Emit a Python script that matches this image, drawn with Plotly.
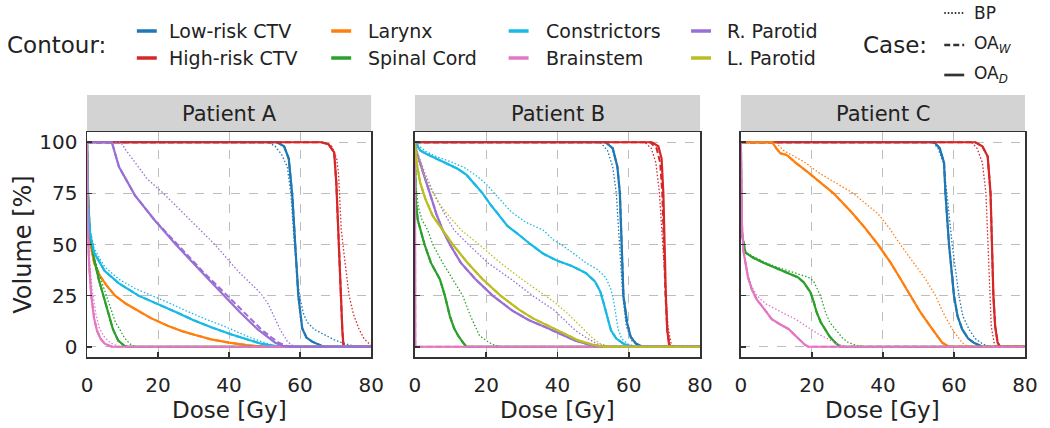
import plotly.graph_objects as go

# ---------------- data: (dose [Gy], volume [%]) ----------------
PATIENTS = ["Patient A", "Patient B", "Patient C"]
CONTOURS = ["Low-risk CTV", "High-risk CTV", "Larynx", "Spinal Cord",
            "Constrictors", "Brainstem", "R. Parotid", "L. Parotid"]
COLORS = ["#1f77b4", "#d62728", "#ff7f0e", "#2ca02c",
          "#19b9e6", "#e377c2", "#9a6fd6", "#bcbd22"]
X_TICKS = [0, 20, 40, 60, 80]
Y_TICKS = [0, 25, 50, 75, 100]

# Patient A
A_low_D = [(0,100),(53.5,100),(55.5,98),(56.8,92),(57.8,74),(58.7,50),(59.5,25),(60.6,9),(61.8,4.5),(63.4,2.5),(66,0.5),(68,0),(80,0)]
A_low_P = [(0,100),(51,100),(53,98),(54.8,94),(56.4,88),(57.4,75),(58.4,50),(59.8,25),(61,16),(62,12),(64,8.5),(66.8,6),(69.5,3.5),(72.4,1.6),(76,0),(80,0)]
A_high_D = [(0,100),(66,100),(68,99),(69.6,95),(70.2,80),(70.8,50),(71.5,25),(71.9,8),(72.2,1),(72.6,0),(80,0)]
A_high_P = [(0,100),(66,100),(68.8,98.5),(70.3,92),(70.8,85),(71.2,70),(71.6,57),(72.4,45),(73.2,33),(73.8,25),(75,16),(76.6,8.6),(78,4),(79,2),(80,0.5)]
A_lar_D = [(0,100),(0.3,70),(0.8,52),(2,41),(3.7,34.5),(5.5,30),(7.9,25),(11,21),(14.4,17.6),(18,14),(22.7,10.3),(27,7.5),(31,5.5),(35,3.6),(40,2),(45,0.8),(50,0),(80,0)]
A_cord_D = [(0,100),(0.3,75),(0.8,55),(2,43),(3.3,33),(4.6,25),(6,16),(7.3,8.6),(8.8,3),(10.5,0.5),(11.5,0),(80,0)]
A_cord_P = [(0,100),(0.3,75),(0.8,56),(2,44),(3.5,35),(5,27),(6.5,19),(8,12),(9.2,8.6),(10.5,4.5),(12,1.5),(13.5,0),(80,0)]
A_con_D = [(0,100),(0.3,70),(0.8,56),(2,46),(5,37),(9,31),(14.5,25),(20,21),(25,17),(30,13),(35,9.5),(40.7,6),(45,3.5),(49,1.5),(53,0.3),(56,0),(80,0)]
A_con_P = [(0,100),(0.3,72),(0.8,58),(2,48),(5,39),(9,33),(13.5,28.5),(18.5,25),(23,21.5),(28,17.5),(33,13.8),(38,10.5),(42,7.5),(46,4.5),(50,2),(53,0.5),(56,0),(80,0)]
A_brain_D = [(0,100),(0.2,60),(0.6,40),(1.2,25),(2,14),(2.8,8),(3.8,4),(5,1.5),(7,0),(80,0)]
A_brain_P = [(0,100),(0.2,62),(0.7,42),(1.5,27),(2.5,16),(3.5,9),(4.8,5),(6.5,2),(9,0),(80,0)]
A_rpar_D = [(0,100),(7,100),(9,88),(13.5,74),(19,62),(25,50),(32,37),(38.7,25),(43,17),(48,8.6),(51,4.5),(53,2),(55,0.5),(57,0),(80,0)]
A_rpar_W = [(0,100),(7,100),(9,88),(13.5,74),(19,62),(25.5,50),(32.5,37),(39.5,25),(44,17),(49,8.6),(52,4.5),(54,2),(56,0.5),(58,0),(80,0)]
A_rpar_P = [(0,100),(9.5,100),(11,96),(13.5,90),(17,82),(21.5,75),(29,62),(36,50),(42.5,37),(49,26),(51,21),(53,14),(54.5,8),(56.5,2.4),(58,0.5),(60,0),(80,0)]

# Patient B
B_low_D = [(0,100),(53.5,100),(55.5,97),(56.8,88),(57.5,75),(58,50),(58.5,25),(59.5,12),(60.5,5),(62,1.5),(64,0),(80,0)]
B_low_P = [(0,100),(52,100),(54,96),(55.5,88),(56.5,75),(57.5,50),(58.3,25),(59.3,10),(60.8,3),(63,0.5),(65,0),(80,0)]
B_high_D = [(0,100),(66.5,100),(68.3,98),(69.2,92),(69.7,75),(70,50),(70.4,25),(70.8,8),(71.3,1),(71.7,0),(80,0)]
B_high_W = [(0,100),(66,100),(67.8,97),(68.8,90),(69.4,75),(69.8,50),(70.3,25),(70.8,8),(71.4,1),(72,0),(80,0)]
B_high_P = [(0,100),(64.5,100),(66.3,97),(67.6,90),(68.6,75),(69.5,50),(70.3,25),(71,10),(71.8,2),(72.5,0),(80,0)]
B_cord_D = [(0,100),(0.2,72),(0.8,62),(1.6,57),(2.7,50),(4.5,41),(7,33),(8.4,25),(9.8,15),(11,9),(12.1,5.5),(13.5,2),(14.5,0),(80,0)]
B_cord_P = [(0,100),(0.3,78),(1,68),(2,62),(3.6,57),(5,50),(7.8,41),(10.6,33),(13.4,25),(15.6,15),(17,10),(18.1,5.5),(20,3),(22,1),(24,0),(80,0)]
B_con_D = [(0,100),(1.5,96),(3,94.5),(6,92),(8.7,90),(12,87),(14.5,84),(17,79),(19,75),(21,70),(23,65.5),(26,59),(29,55),(32.5,50),(36,45.5),(40,42),(44,39.5),(48,36),(50.5,32),(52,27),(53,21),(54,14),(55,8),(56.5,4),(58.5,1.5),(61,0),(80,0)]
B_con_P = [(0,100),(3,95.5),(6,93),(10,90.5),(14,87.5),(17.7,83),(20,79.5),(22,75.5),(25,70),(27,66),(31,61),(36,57),(39,52),(41,50),(45,45),(48,41),(51,38),(53.5,34),(55,28),(55.8,22),(56.5,14),(57,8.6),(58,4),(59.5,1.5),(62,0),(80,0)]
B_brain_D = [(0,100),(0.1,0),(80,0)]
B_rpar_D = [(0,100),(0.5,95),(1.4,90),(2.8,82),(4.2,75),(6,65),(7.8,57),(9.8,50),(12.9,41),(17,33),(21.8,25),(27.4,17.6),(32,13),(36.7,9.5),(41,6),(45,3),(49,1),(53,0),(80,0)]
B_rpar_P = [(0,100),(0.5,96),(1.5,91),(3,84),(5,76),(8,66),(11,57),(15,50),(20.5,41),(27,33),(33,25),(39,18),(42,13),(45,8),(48,4.5),(51,1.5),(54,0),(80,0)]
B_lpar_D = [(0,100),(0.5,90),(1.5,80),(3,72),(5,64),(7.8,57),(10.6,50),(14.8,41),(19,33),(24,25),(29.3,18),(33,14),(37.7,10),(42,6),(46,3),(50,1),(53,0),(80,0)]
B_lpar_P = [(0,100),(1,92),(3,82),(6,72),(9,65),(13,57),(18,50),(24,41),(30,33),(36.5,25),(39,22),(43,16),(47,9),(50,4),(52,1.5),(55,0),(80,0)]

# Patient C
C_low_D = [(0,100),(54.5,100),(56,97),(57.2,90),(57.6,75),(58.6,50),(60,25),(61,15),(62.3,8.6),(64,4),(65.6,2),(68,0),(80,0)]
C_low_P = [(0,100),(54,100),(55.5,97),(57,90),(58,75),(59.5,50),(61.4,25),(62.5,15),(64.2,8.6),(66,4),(68,1.5),(70,0),(80,0)]
C_high_D = [(0,100),(66,100),(68,98),(69.5,93),(70.3,75),(70.7,50),(71.1,25),(71.6,10),(72.3,2),(73,0),(80,0)]
C_high_P = [(0,100),(65,100),(66.5,97),(68,90),(69,75),(69.5,50),(70,25),(70.5,10),(71.3,2),(72,0),(80,0)]
C_lar_D = [(0,100),(8.8,100),(10,97),(11.1,94.6),(12.9,93.8),(15.4,90),(19.1,85),(22,81),(26.1,75),(31.3,65.5),(35,58),(38.6,50),(42.2,41),(45,33),(47.8,25),(50.5,17),(53.9,8.6),(56.7,2),(58.6,0),(80,0)]
C_lar_P = [(0,100),(9.7,100),(12,96),(15,93),(18.2,90),(22,85),(26,81),(31.7,75),(38.6,65),(42,57.5),(44.9,50),(48.8,41),(52,33),(54.8,25),(57,16.5),(59.5,8.6),(62.3,2),(64,0),(80,0)]
C_cord_D = [(0,100),(0.2,56),(1.3,46),(3.5,43.5),(6.5,41),(10,38.5),(13.5,36),(16,34),(17.7,31.5),(19,28.5),(19.6,26.6),(20.5,22),(21.3,17),(22.5,12),(23.8,8.6),(25,5),(26.6,2),(28,0),(80,0)]
C_cord_P = [(0,100),(0.2,56),(1.3,46),(3.5,44),(6.5,41.5),(10,39),(13.5,37),(17,35),(19,34),(20.5,32),(21.5,28.5),(22.4,25),(23.8,17),(25,12),(26.6,8.6),(28.5,4.5),(30.3,2),(33,0.5),(35,0),(80,0)]
C_brain_D = [(0,100),(0.3,60),(0.7,47),(1.3,41),(2,34),(3.1,28),(4.5,23),(5.9,20),(7.5,16),(8.7,13.5),(11,11),(13.5,8.6),(15,6),(16.3,3.7),(18,1),(19,0),(80,0)]
C_brain_P = [(0,100),(0.3,60),(0.7,47),(1.3,41),(2,35),(3.2,29),(4.5,25),(7,21),(9.7,18.4),(12.5,16),(15.4,13.5),(18,10.5),(19.9,8.6),(22,6),(24.7,3.7),(27,1.5),(30,0),(80,0)]

# (contour, BP, OA_W, OA_D) per patient; OA_W overlaps OA_D where not separately visible
CURVES = [
    [("Low-risk CTV", A_low_P, A_low_D, A_low_D), ("High-risk CTV", A_high_P, A_high_D, A_high_D),
     ("Larynx", A_lar_D, A_lar_D, A_lar_D), ("Spinal Cord", A_cord_P, A_cord_D, A_cord_D),
     ("Constrictors", A_con_P, A_con_D, A_con_D), ("Brainstem", A_brain_P, A_brain_D, A_brain_D),
     ("R. Parotid", A_rpar_P, A_rpar_W, A_rpar_D)],
    [("Low-risk CTV", B_low_P, B_low_D, B_low_D), ("High-risk CTV", B_high_P, B_high_W, B_high_D),
     ("Spinal Cord", B_cord_P, B_cord_D, B_cord_D), ("Constrictors", B_con_P, B_con_D, B_con_D),
     ("Brainstem", B_brain_D, B_brain_D, B_brain_D), ("R. Parotid", B_rpar_P, B_rpar_D, B_rpar_D),
     ("L. Parotid", B_lpar_P, B_lpar_D, B_lpar_D)],
    [("Low-risk CTV", C_low_P, C_low_D, C_low_D), ("High-risk CTV", C_high_P, C_high_D, C_high_D),
     ("Larynx", C_lar_P, C_lar_D, C_lar_D), ("Spinal Cord", C_cord_P, C_cord_D, C_cord_D),
     ("Brainstem", C_brain_P, C_brain_D, C_brain_D)],
]

CASES = ["BP", "OA<sub><i>W</i></sub>", "OA<sub><i>D</i></sub>"]
CASE_DASH = ["1.5px,2px", "6px,3px", "solid"]
CASE_WIDTH = [1.3, 2.0, 2.2]

# ---------------- geometry ----------------
W, H = 1050, 428
ML, MR, MT, MB = 87, 22, 132, 71
PW, PH = W - ML - MR, H - MT - MB
DOMAINS = [[0.0, 0.3029], [0.3496, 0.6536], [0.6971, 1.0]]
FONT = "DejaVu Sans"
INK = "#222222"


def px(xp):
    return (xp - ML) / PW


def py(yp):
    return (H - MB - yp) / PH


fig = go.Figure()
for p, curves in enumerate(CURVES):
    xa = "x" if p == 0 else f"x{p+1}"
    ya = "y" if p == 0 else f"y{p+1}"
    for name, bp, oaw, oad in curves:
        color = COLORS[CONTOURS.index(name)]
        for c, data in enumerate([bp, oaw, oad]):
            fig.add_trace(go.Scatter(
                x=[d for d, v in data], y=[v for d, v in data], mode="lines",
                line=dict(color=color, width=CASE_WIDTH[c], dash=CASE_DASH[c]),
                xaxis=xa, yaxis=ya, showlegend=False, hoverinfo="skip"))

axis_common = dict(showline=True, mirror=True, linecolor="#333333", linewidth=1.5,
                   ticks="inside", ticklen=5, tickwidth=1.5, tickcolor="#333333",
                   showgrid=True, gridcolor="#bdbdbd", griddash="dash", gridwidth=1,
                   zeroline=False, tickfont=dict(family=FONT, size=20, color=INK))
layout = dict(width=W, height=H, autosize=False,
              margin=dict(l=ML, r=MR, t=MT, b=MB),
              paper_bgcolor="white", plot_bgcolor="white",
              font=dict(family=FONT, color=INK), hovermode=False)
for p in range(3):
    sfx = "" if p == 0 else str(p + 1)
    layout["xaxis" + sfx] = dict(axis_common, domain=DOMAINS[p], range=[0, 80],
                                 tickvals=X_TICKS, ticklabelstandoff=9,
                                 anchor="y" + sfx)
    layout["yaxis" + sfx] = dict(axis_common, range=[-5, 105], tickvals=Y_TICKS,
                                 showticklabels=(p == 0), ticklabelstandoff=4,
                                 anchor="x" + sfx, **({} if p == 0 else {"matches": "y"}))
fig.update_layout(**layout)

shapes, annos = [], []
for p in range(3):
    d0, d1 = DOMAINS[p]
    shapes.append(dict(type="rect", xref="paper", yref="paper", x0=d0, x1=d1,
                       y0=1.0, y1=py(95), fillcolor="#d3d3d3", line=dict(width=0), layer="below"))
    annos.append(dict(text=PATIENTS[p], xref="paper", yref="paper", x=(d0 + d1) / 2,
                      y=(1.0 + py(95)) / 2, showarrow=False, xanchor="center", yanchor="middle",
                      font=dict(family=FONT, size=21, color=INK)))
    annos.append(dict(text="Dose [Gy]", xref="paper", yref="paper", x=(d0 + d1) / 2,
                      y=py(410), showarrow=False, xanchor="center", yanchor="middle",
                      font=dict(family=FONT, size=23, color=INK)))
annos.append(dict(text="Volume [%]", xref="paper", yref="paper", x=px(22), y=0.5,
                  textangle=-90, showarrow=False, xanchor="center", yanchor="middle",
                  font=dict(family=FONT, size=24, color=INK)))

# legend (drawn by hand)
annos.append(dict(text="Contour:", xref="paper", yref="paper", x=px(5), y=py(45),
                  showarrow=False, xanchor="left", yanchor="middle",
                  font=dict(family=FONT, size=23, color=INK)))
col_line = [137, 332, 510, 693]
col_text = [167, 367, 545, 727]
rows = [31, 58]
for i, name in enumerate(CONTOURS):
    col, row = i // 2, i % 2
    shapes.append(dict(type="line", xref="paper", yref="paper",
                       x0=px(col_line[col]), x1=px(col_line[col] + 20),
                       y0=py(rows[row]), y1=py(rows[row]),
                       line=dict(color=COLORS[i], width=3.5)))
    annos.append(dict(text=name, xref="paper", yref="paper", x=px(col_text[col]), y=py(rows[row]),
                      showarrow=False, xanchor="left", yanchor="middle",
                      font=dict(family=FONT, size=19, color=INK)))
annos.append(dict(text="Case:", xref="paper", yref="paper", x=px(863), y=py(45),
                  showarrow=False, xanchor="left", yanchor="middle",
                  font=dict(family=FONT, size=23, color=INK)))
case_rows = [13, 45, 75]
for c, label in enumerate(CASES):
    shapes.append(dict(type="line", xref="paper", yref="paper", x0=px(947), x1=px(967),
                       y0=py(case_rows[c]), y1=py(case_rows[c]),
                       line=dict(color="#333333", width=CASE_WIDTH[c] + 0.5,
                                 dash=CASE_DASH[c])))
    annos.append(dict(text=label, xref="paper", yref="paper", x=px(975), y=py(case_rows[c]),
                      showarrow=False, xanchor="left", yanchor="middle",
                      font=dict(family=FONT, size=17, color=INK)))

fig.update_layout(shapes=shapes, annotations=annos)
fig.write_html("out.html", config={"displayModeBar": False, "staticPlot": True},
               post_script="document.body.style.margin='0px';")
